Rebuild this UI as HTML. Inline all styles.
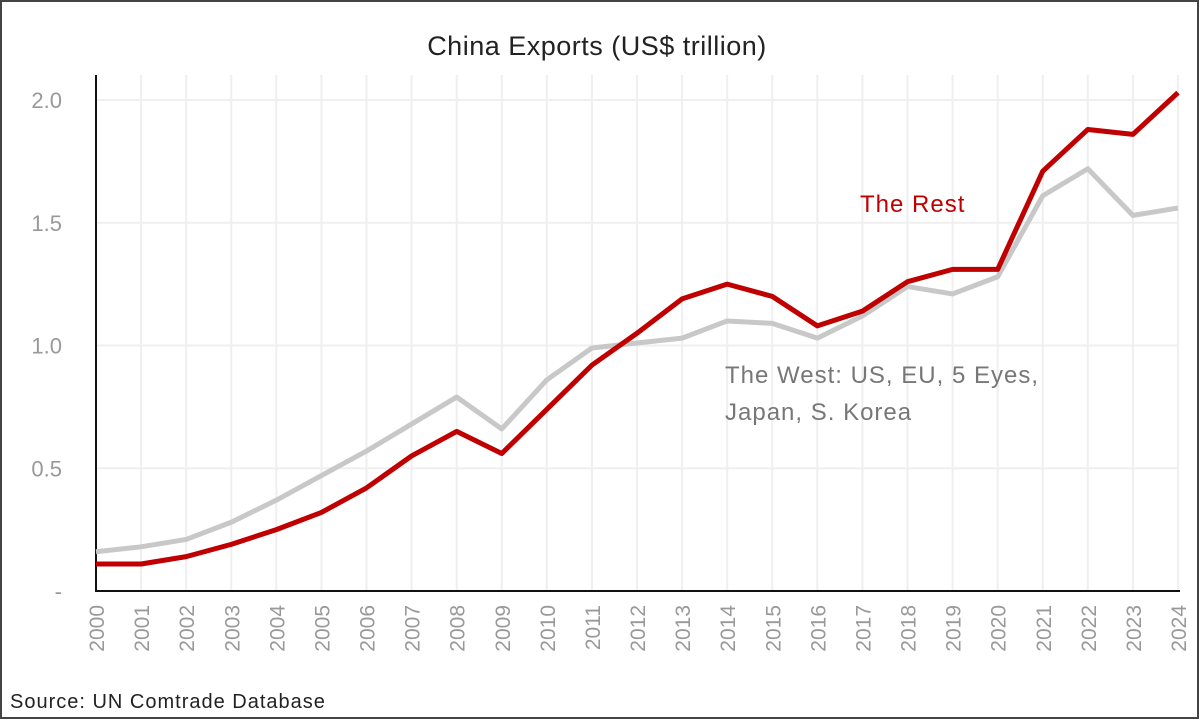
<!DOCTYPE html>
<html><head><meta charset="utf-8"><style>
html,body{margin:0;padding:0;background:#fff}
svg{display:block;font-family:"Liberation Sans","DejaVu Sans",sans-serif}
</style></head><body>
<svg width="1200" height="720" viewBox="0 0 1200 720">
<rect x="1" y="1" width="1197" height="717" fill="#fff" stroke="#444" stroke-width="2"/>
<text x="597" y="55" text-anchor="middle" font-size="27" fill="#222" letter-spacing="0.5">China Exports (US$ trillion)</text>
<g id="grid"></g>
<g id="axes"></g>
<g id="series"></g>
<text x="860" y="212" font-size="24" fill="#c00000" letter-spacing="1">The Rest</text>
<text x="725" y="383" font-size="24" fill="#777" letter-spacing="1">The West: US, EU, 5 Eyes,</text>
<text x="725" y="420" font-size="24" fill="#777" letter-spacing="1">Japan, S. Korea</text>
<text x="10" y="708" font-size="20" fill="#222" letter-spacing="1">Source: UN Comtrade Database</text>
</svg>
<script>
const years = [2000,2001,2002,2003,2004,2005,2006,2007,2008,2009,2010,2011,2012,2013,2014,2015,2016,2017,2018,2019,2020,2021,2022,2023,2024];
const restValues = [0.11,0.11,0.14,0.19,0.25,0.32,0.42,0.55,0.65,0.56,0.74,0.92,1.05,1.19,1.25,1.20,1.08,1.14,1.26,1.31,1.31,1.71,1.88,1.86,2.03];
const westValues = [0.16,0.18,0.21,0.28,0.37,0.47,0.57,0.68,0.79,0.66,0.86,0.99,1.01,1.03,1.10,1.09,1.03,1.12,1.24,1.21,1.28,1.61,1.72,1.53,1.56];
const yTicks = [0,0.5,1.0,1.5,2.0];
const yTickLabels = ["-","0.5","1.0","1.5","2.0"];
const NS="http://www.w3.org/2000/svg";
const X0=96,X1=1178,Y0=591,YMAXPX=100;
function xs(i){return X0+(X1-X0)*i/(years.length-1);}
function ys(v){return Y0-(Y0-YMAXPX)*v/2.0;}
function mk(tag,attrs,parent){const e=document.createElementNS(NS,tag);for(const k in attrs)e.setAttribute(k,attrs[k]);parent.appendChild(e);return e;}
const grid=document.getElementById('grid'),axes=document.getElementById('axes'),series=document.getElementById('series');
years.forEach((y,i)=>{
  const l=mk('line',{x1:xs(i),x2:xs(i),y1:75,y2:Y0,stroke:'#efefef','stroke-width':2},grid);
  
  
  const t=mk('text',{x:0,y:0,'font-size':21,fill:'#999','text-anchor':'end',transform:`translate(${xs(i)+8},605) rotate(-90)`},axes);
  t.textContent=y;
  
  
});
yTicks.forEach((v,i)=>{
  if(v>0){const l=mk('line',{x1:X0,x2:X1,y1:ys(v),y2:ys(v),stroke:'#efefef','stroke-width':2},grid);
  
  }
  const t=mk('text',{x:62,y:ys(v)+8,'font-size':22,fill:'#999','text-anchor':'end'},axes);
  t.textContent=yTickLabels[i];
  
  
});
const ax=mk('path',{d:`M${X0},75 V${Y0} H${X1+2}`,fill:'none',stroke:'#111','stroke-width':2},axes);


function line(vals,color,name){
  const d=vals.map((v,i)=>(i?'L':'M')+xs(i)+','+ys(v)).join(' ');
  const p=mk('path',{d:d,fill:'none',stroke:color,'stroke-width':5,'stroke-linejoin':'round'},series);
  
  
}
line(westValues,'#c8c8c8','series-the-west');
line(restValues,'#c00000','series-the-rest');
</script>
</body></html>
